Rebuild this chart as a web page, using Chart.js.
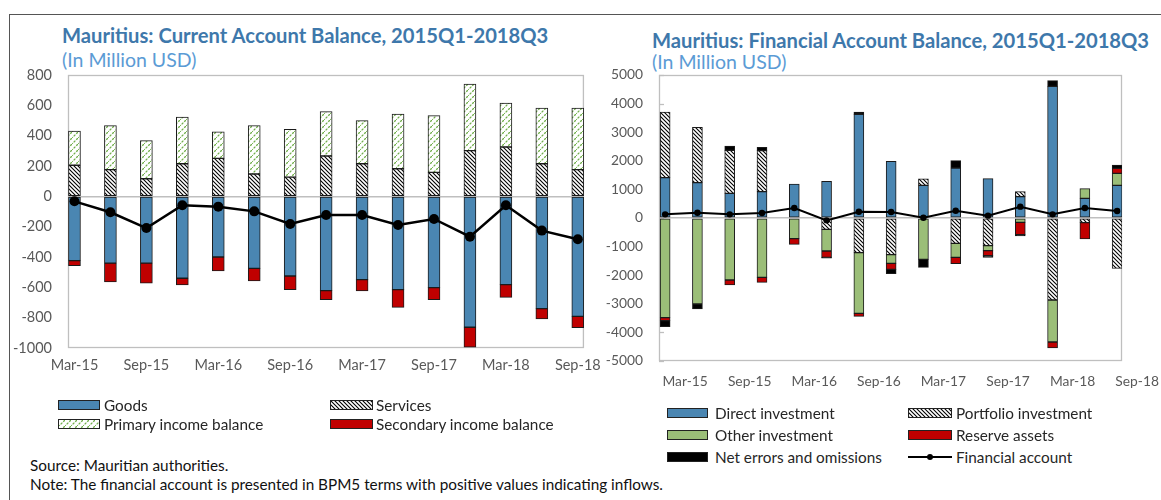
<!DOCTYPE html>
<html><head><meta charset="utf-8">
<script src="https://cdn.jsdelivr.net/npm/chart.js@4.4.1/dist/chart.umd.min.js"></script>
<style>
body{margin:0;width:1161px;height:500px;background:#fff;position:relative;overflow:hidden;font-family:Lato,"Open Sans",sans-serif;}
.frame{position:absolute;left:9px;top:14px;width:1300px;height:700px;border-top:1.5px solid #555;border-left:1.5px solid #555;}
.t{position:absolute;white-space:nowrap;line-height:22px;}
.title{font-weight:bold;font-size:20.2px;color:#3e78ab;}
.sub{font-size:19.5px;color:#5b9bd5;}
canvas{position:absolute;top:0;}
.leg{position:absolute;font-size:15.3px;color:#262626;white-space:nowrap;line-height:18px;}
.sw{position:absolute;height:10px;box-sizing:border-box;border:1px solid #222;}
.note{position:absolute;left:30px;font-size:15.3px;color:#111;white-space:nowrap;line-height:18px;}
</style></head><body>
<div class="frame"></div>
<div class="t title" style="left:62px;top:24px">Mauritius: Current Account Balance, 2015Q1-2018Q3</div>
<div class="t sub" style="left:62px;top:49px">(In Million USD)</div>
<div class="t title" style="left:652px;top:29px">Mauritius: Financial Account Balance, 2015Q1-2018Q3</div>
<div class="t sub" style="left:652px;top:51px">(In Million USD)</div>
<canvas id="c1" width="610" height="400" style="left:0"></canvas>
<canvas id="c2" width="561" height="400" style="left:600px"></canvas>
<div id="legends"></div>
<div class="note" style="top:456px">Source: Mauritian authorities.</div>
<div class="note" style="top:475px">Note: The financial account is presented in BPM5 terms with positive values indicating inflows.</div>
<script>
// ---- Data ----
const quarters = ["Mar-15","Jun-15","Sep-15","Dec-15","Mar-16","Jun-16","Sep-16","Dec-16","Mar-17","Jun-17","Sep-17","Dec-17","Mar-18","Jun-18","Sep-18"];
const xTickIdx = [0,2,4,6,8,10,12,14];

// Current account (million USD)
const goods           = [-424,-440,-440,-540,-400,-475,-525,-622,-549,-615,-602,-863,-582,-740,-791];
const services        = [205,176,116,215,250,147,127,266,215,182,158,301,325,215,176];
const primaryIncome   = [225,290,251,308,176,319,315,292,284,361,374,439,290,367,406];
const secondaryIncome = [-33,-125,-133,-44,-92,-83,-90,-59,-75,-117,-79,-132,-84,-69,-75];
const currentAccount  = [-33,-105,-209,-59,-68,-99,-182,-123,-123,-189,-149,-266,-59,-226,-283];
const caTicks = {min:-1000, max:800, step:200};

// Financial account (million USD)
const directInv        = [1410,1235,862,921,1189,1282,3625,1981,1142,1748,1375,746,4604,688,1142];
const portfolioInv     = [2296,1935,1504,1433,0,-396,-1212,-1282,230,-886,-967,175,-2867,-163,-1760];
const otherInv         = [-3485,-3007,-2168,-2075,-722,-758,-2121,-303,-1445,-489,-175,-152,-1469,338,420];
const reserveAssets    = [-105,0,-175,-174,-200,-221,-105,-210,0,-222,-175,-431,-209,-571,175];
const netErrors        = [-210,-175,151,117,0,-30,81,-151,-280,257,-58,-46,198,0,116];
const financialAccount = [128,186,128,175,350,-82,221,210,10,256,82,396,128,350,245];
const faTicks = {min:-5000, max:5000, step:1000};

// ---- Styles ----
const BLUE = '#4a86b2', GREEN = '#9bbe78', RED = '#c00000', EDGE = '#1a1a1a';
function pat(kind){
  const c = document.createElement('canvas');
  const n = kind==='svc' ? 4 : 6;
  c.width = n; c.height = n;
  const g = c.getContext('2d');
  g.fillStyle = '#fff'; g.fillRect(0,0,n,n);
  if(kind==='svc'){
    g.strokeStyle = '#000'; g.lineWidth = 1.1;
    g.beginPath(); g.moveTo(-1,-1); g.lineTo(n+1,n+1); g.moveTo(-1,n-1); g.lineTo(1,n+1); g.moveTo(n-1,-1); g.lineTo(n+1,1); g.stroke();
  } else {
    g.strokeStyle = '#6fae48'; g.lineWidth = 1.3;
    g.setLineDash([2.5,1.2]);
    g.beginPath(); g.moveTo(-1,n+1); g.lineTo(n+1,-1); g.stroke();
  }
  return c;
}
const svcCanvas = pat('svc'), priCanvas = pat('pri');
const tmp = document.createElement('canvas').getContext('2d');
const svcPat = tmp.createPattern(svcCanvas,'repeat');
const priPat = tmp.createPattern(priCanvas,'repeat');

const xy = arr => arr.map((v,i)=>({x:i, y:v}));
const tickFont = s => ({family:'Lato, "Open Sans", sans-serif', size:s});

const boxPlugin = (innerTicks) => ({
  id:'box',
  beforeDatasetsDraw(chart){
    const {ctx, chartArea:a} = chart;
    ctx.save();
    ctx.strokeStyle = '#bfbfbf'; ctx.lineWidth = 1.3;
    ctx.strokeRect(a.left+0.5, a.top+0.5, a.right-a.left-1, a.bottom-a.top-1);
    if(innerTicks){
      const ys = chart.scales.y;
      ys.ticks.forEach(t=>{
        const p = Math.round(ys.getPixelForValue(t.value))+0.5;
        ctx.beginPath(); ctx.moveTo(a.left, p); ctx.lineTo(a.left+5, p); ctx.stroke();
      });
    }
    ctx.restore();
  }
});

function makeChart(id, bars, line, tk, opt){
  const ds = bars.map(b=>({
    type:'bar', label:b.label, data:xy(b.data), backgroundColor:b.color,
    borderColor:EDGE, borderWidth:1, borderSkipped:false, barThickness:opt.barW, stack:'s', order:1
  }));
  ds.push({type:'line', label:line.label, data:xy(line.data), borderColor:'#000', borderWidth:opt.lineW,
    pointRadius:opt.ptR, pointBackgroundColor:'#000', pointBorderColor:'#000', pointBorderWidth:0,
    stack:'line', order:0, tension:0});
  return new Chart(document.getElementById(id), {
    data:{datasets:ds},
    options:{
      animation:false, responsive:false, maintainAspectRatio:false, events:[],
      layout:{padding:{top:75, right:opt.padR, left:0, bottom:0}},
      plugins:{legend:{display:false}, tooltip:{enabled:false}},
      scales:{
        x:{type:'linear', min:opt.xmin, max:opt.xmax, stacked:true, offset:false,
           grid:{display:false, drawTicks:false, offset:false}, border:{display:false},
           afterBuildTicks:s=>{ s.ticks = xTickIdx.map(v=>({value:v})); },
           afterFit:s=>{ s.height = opt.xH; },
           ticks:{callback:v=>quarters[v], autoSkip:false, maxRotation:0, padding:opt.xPad,
                  labelOffset:opt.labelOff, color:'#595959', font:tickFont(opt.fs)}},
        y:{stacked:true, min:tk.min, max:tk.max,
           afterFit:s=>{ s.width = opt.yW; },
           grid:{drawTicks:false, lineWidth:1.5, color:c=>c.tick && c.tick.value===0 ? '#bfbfbf' : 'rgba(0,0,0,0)'},
           border:{display:false},
           ticks:{stepSize:tk.step, padding:opt.yPad, color:'#595959', font:tickFont(opt.fs), callback:v=>String(v)}}
      }
    },
    plugins:[boxPlugin(opt.innerTicks)]
  });
}

makeChart('c1', [
  {label:'Goods', data:goods, color:BLUE},
  {label:'Services', data:services, color:svcPat},
  {label:'Primary income balance', data:primaryIncome, color:priPat},
  {label:'Secondary income balance', data:secondaryIncome, color:RED}
], {label:'Current account balance', data:currentAccount}, caTicks,
 {barW:12, lineW:2.5, ptR:5, padR:25, xmin:-0.18, xmax:14.17, xH:52, xPad:9, labelOff:0, yW:68, yPad:16, fs:14.5, innerTicks:false});

makeChart('c2', [
  {label:'Direct investment', data:directInv, color:BLUE},
  {label:'Portfolio investment', data:portfolioInv, color:svcPat},
  {label:'Other investment', data:otherInv, color:GREEN},
  {label:'Reserve assets', data:reserveAssets, color:RED},
  {label:'Net errors and omissions', data:netErrors, color:'#000'}
], {label:'Financial account', data:financialAccount}, faTicks,
 {barW:10, lineW:2, ptR:3.2, padR:39, xmin:-0.19, xmax:14.15, xH:39, xPad:12, labelOff:20, yW:59, yPad:16, fs:13.8, innerTicks:true});

// ---- HTML legends ----
const legendItems = [
  {x:58, y:405, w:42, tx:104, label:'Goods', bg:BLUE},
  {x:330, y:405, w:43, tx:376, label:'Services', img:svcCanvas},
  {x:58, y:424, w:42, tx:104, label:'Primary income balance', img:priCanvas},
  {x:330, y:424, w:43, tx:376, label:'Secondary income balance', bg:RED},
  {x:667, y:413, w:41, tx:715, label:'Direct investment', bg:BLUE},
  {x:908, y:413, w:44, tx:956, label:'Portfolio investment', img:svcCanvas},
  {x:667, y:435, w:41, tx:715, label:'Other investment', bg:GREEN},
  {x:908, y:435, w:44, tx:956, label:'Reserve assets', bg:RED},
  {x:667, y:457, w:41, tx:715, label:'Net errors and omissions', bg:'#000'},
  {x:908, y:457, w:44, tx:956, label:'Financial account', line:true}
];
const L = document.getElementById('legends');
legendItems.forEach(it=>{
  if(it.line){
    const ln = document.createElement('div');
    ln.style.cssText = `position:absolute;left:${it.x}px;top:${it.y-1}px;width:${it.w}px;height:2px;background:#000`;
    const dt = document.createElement('div');
    dt.style.cssText = `position:absolute;left:${it.x+it.w/2-3}px;top:${it.y-3}px;width:6px;height:6px;border-radius:3px;background:#000`;
    L.appendChild(ln); L.appendChild(dt);
  } else {
    const sw = document.createElement('div');
    sw.className = 'sw';
    sw.style.left = it.x+'px'; sw.style.top = (it.y-5)+'px'; sw.style.width = it.w+'px';
    if(it.img){ sw.style.backgroundImage = `url(${it.img.toDataURL()})`; }
    else sw.style.background = it.bg;
    L.appendChild(sw);
  }
  const tx = document.createElement('div');
  tx.className = 'leg'; tx.textContent = it.label;
  tx.style.left = it.tx+'px'; tx.style.top = (it.y-9)+'px';
  L.appendChild(tx);
});
</script>
</body></html>
